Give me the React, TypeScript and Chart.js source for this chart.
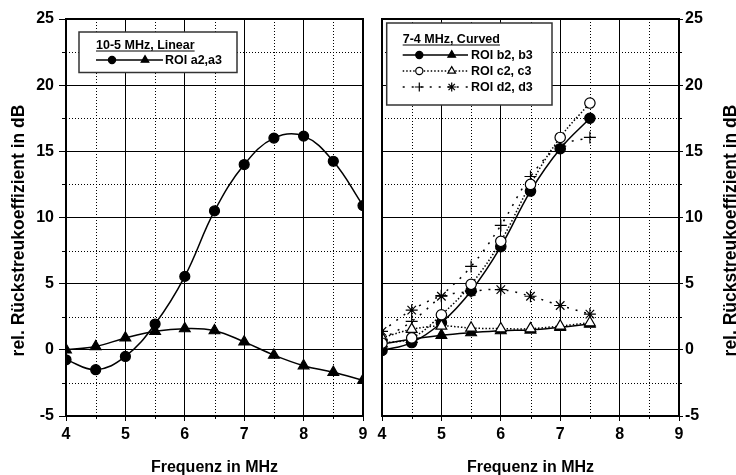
import React, { useEffect, useRef } from 'react';
import { Chart, registerables } from 'chart.js';

Chart.register(...registerables);

const FONT = "'Liberation Sans', Arial, Helvetica, sans-serif";
Chart.defaults.font.family = FONT;
Chart.defaults.color = '#000';

// ---------- data ----------
const freqLeft = [4, 4.5, 5, 5.5, 6, 6.5, 7, 7.5, 8, 8.5, 9];
const roiA2 = [-0.75, -1.5, -0.5, 1.95, 5.55, 10.5, 14.0, 16.0, 16.15, 14.25, 10.9];
const roiA3 = [0.0, 0.25, 0.9, 1.4, 1.6, 1.45, 0.6, -0.4, -1.2, -1.7, -2.3];

const freqRight = [4, 4.5, 5, 5.5, 6, 6.5, 7, 7.5];
const roiB2 = [-0.05, 0.55, 2.05, 4.45, 7.8, 12.0, 15.2, 17.5];
const roiB3 = [0.45, 0.8, 1.1, 1.3, 1.45, 1.5, 1.7, 1.95];
const roiC2 = [0.5, 0.9, 2.65, 4.95, 8.2, 12.5, 16.05, 18.65];
const roiC3 = [0.9, 1.55, 1.8, 1.65, 1.6, 1.6, 1.8, 2.05];
const roiD2 = [0.8, 2.15, 4.1, 6.3, 9.4, 13.1, 15.4, 16.05];
const roiD3 = [1.4, 3.0, 4.05, 4.4, 4.55, 4.05, 3.35, 2.7];

const xMin = 4, xMax = 9, xStep = 1;
const yMin = -5, yMax = 25, yStep = 5;
const xMinor = [4.5, 5.5, 6.5, 7.5, 8.5];
const yMinor = [-2.5, 2.5, 7.5, 12.5, 17.5, 22.5];

const yTitle = 'rel. Rückstreukoeffizient in dB';
const xTitle = 'Frequenz in MHz';
const legendLeftTitle = '10-5 MHz, Linear';
const legendLeftRows = ['ROI a2,a3'];
const legendRightTitle = '7-4 MHz, Curved';
const legendRightRows = ['ROI b2, b3', 'ROI c2, c3', 'ROI d2, d3'];

const pts = (xs: number[], ys: number[]) => xs.map((x, i) => ({ x, y: ys[i] }));

// ---------- drawing helpers ----------
function marker(ctx: CanvasRenderingContext2D, kind: string, x: number, y: number, r: number, filled: boolean) {
  ctx.save();
  ctx.setLineDash([]);
  ctx.lineWidth = 1.2;
  ctx.strokeStyle = '#000';
  ctx.fillStyle = filled ? '#000' : '#fff';
  ctx.beginPath();
  if (kind === 'circle') {
    ctx.arc(x, y, r, 0, Math.PI * 2);
    ctx.fill();
    ctx.stroke();
  } else if (kind === 'triangle') {
    let a = 0;
    for (let i = 0; i < 3; i++) {
      const px = x + Math.sin(a) * r, py = y - Math.cos(a) * r;
      if (i === 0) ctx.moveTo(px, py); else ctx.lineTo(px, py);
      a += (2 * Math.PI) / 3;
    }
    ctx.closePath();
    ctx.fill();
    ctx.stroke();
  } else if (kind === 'cross') {
    ctx.moveTo(x - r, y); ctx.lineTo(x + r, y);
    ctx.moveTo(x, y - r); ctx.lineTo(x, y + r);
    ctx.stroke();
  } else if (kind === 'star') {
    ctx.moveTo(x - r, y); ctx.lineTo(x + r, y);
    ctx.moveTo(x, y - r); ctx.lineTo(x, y + r);
    const d = r * Math.SQRT1_2;
    ctx.moveTo(x - d, y - d); ctx.lineTo(x + d, y + d);
    ctx.moveTo(x - d, y + d); ctx.lineTo(x + d, y - d);
    ctx.stroke();
  }
  ctx.restore();
}

type LegendRow = { text: string; dash: number[]; m1: string; f1: boolean; m2: string; f2: boolean };
type Cfg = {
  yTitleX: number;
  xTitleBaseline: number;
  legend: { box: [number, number, number, number]; x0: number; x1: number; cx1: number; cx2: number; textX: number; titleBase: number; rowsY: number[]; title: string; rows: LegendRow[] };
};

function makePlugin(cfg: Cfg) {
  return {
    id: 'frameDecor',
    beforeDatasetsDraw(chart: any) {
      const { ctx, chartArea: a, scales } = chart;
      const xs = scales.x, ys = scales.y;
      ctx.save();
      ctx.strokeStyle = '#000';
      ctx.lineWidth = 1;
      ctx.setLineDash([1, 2]);
      ctx.beginPath();
      for (const v of xMinor) {
        const px = Math.round(xs.getPixelForValue(v)) + 0.5;
        ctx.moveTo(px, a.top); ctx.lineTo(px, a.bottom);
      }
      for (const v of yMinor) {
        const py = Math.round(ys.getPixelForValue(v)) + 0.5;
        ctx.moveTo(a.left, py); ctx.lineTo(a.right, py);
      }
      ctx.stroke();
      ctx.setLineDash([]);
      // minor outward ticks
      ctx.beginPath();
      for (const v of xMinor) {
        const px = Math.round(xs.getPixelForValue(v)) + 0.5;
        ctx.moveTo(px, a.bottom); ctx.lineTo(px, a.bottom + 3);
      }
      for (const v of yMinor) {
        const py = Math.round(ys.getPixelForValue(v)) + 0.5;
        if (ys.position === 'right') { ctx.moveTo(a.right, py); ctx.lineTo(a.right + 3, py); }
        else { ctx.moveTo(a.left, py); ctx.lineTo(a.left - 4, py); }
      }
      ctx.stroke();
      ctx.restore();
    },
    afterDatasetsDraw(chart: any) {
      const { ctx, chartArea: a } = chart;
      ctx.save();
      ctx.strokeStyle = '#000';
      ctx.lineWidth = 2;
      ctx.setLineDash([]);
      ctx.strokeRect(a.left, a.top, a.right - a.left, a.bottom - a.top);
      ctx.restore();
    },
    afterDraw(chart: any) {
      const { ctx, chartArea: a } = chart;
      ctx.save();
      ctx.fillStyle = '#000';
      // y title
      ctx.font = `bold 17.5px ${FONT}`;
      ctx.textAlign = 'center';
      ctx.textBaseline = 'alphabetic';
      ctx.save();
      ctx.translate(cfg.yTitleX, 230.5);
      ctx.rotate(-Math.PI / 2);
      ctx.fillText(yTitle, 0, 0);
      ctx.restore();
      // x title
      ctx.font = `bold 16px ${FONT}`;
      ctx.fillText(xTitle, (a.left + a.right) / 2, cfg.xTitleBaseline);
      // legend
      const L = cfg.legend;
      const [bx0, by0, bx1, by1] = L.box;
      ctx.fillStyle = '#fff';
      ctx.fillRect(bx0, by0, bx1 - bx0, by1 - by0);
      ctx.strokeStyle = '#333';
      ctx.lineWidth = 1.5;
      ctx.strokeRect(bx0, by0, bx1 - bx0, by1 - by0);
      ctx.fillStyle = '#000';
      ctx.font = `bold 12.5px ${FONT}`;
      ctx.textAlign = 'left';
      ctx.textBaseline = 'alphabetic';
      ctx.fillText(L.title, L.x0, L.titleBase);
      const tw = ctx.measureText(L.title).width;
      ctx.strokeStyle = '#000';
      ctx.lineWidth = 1;
      ctx.beginPath();
      ctx.moveTo(L.x0, L.titleBase + 2.5);
      ctx.lineTo(L.x0 + tw, L.titleBase + 2.5);
      ctx.stroke();
      L.rows.forEach((row, i) => {
        const y = L.rowsY[i];
        ctx.save();
        ctx.lineWidth = 1.5;
        ctx.setLineDash(row.dash);
        ctx.beginPath();
        ctx.moveTo(L.x0, y);
        ctx.lineTo(L.x1, y);
        ctx.stroke();
        ctx.restore();
        marker(ctx, row.m1, L.cx1, y, row.m1 === 'circle' ? 3.6 : 4.5, row.f1);
        marker(ctx, row.m2, L.cx2, y, row.m2 === 'triangle' ? 4.4 : 4.5, row.f2);
        ctx.fillStyle = '#000';
        ctx.textBaseline = 'middle';
        ctx.fillText(row.text, L.textX, y + 0.5);
        ctx.textBaseline = 'alphabetic';
      });
      ctx.restore();
    },
  };
}

const tickFont = { size: 16, weight: 'bold' as const };

function baseScales(yPos: 'left' | 'right', yWidth: number) {
  return {
    x: {
      type: 'linear' as const,
      min: xMin,
      max: xMax,
      ticks: { stepSize: xStep, font: tickFont, color: '#000', padding: 4, maxRotation: 0, autoSkip: false },
      grid: { color: '#000', lineWidth: 1, tickLength: 5 },
      border: { display: false },
      afterFit: (s: any) => { s.height = 59; },
    },
    y: {
      type: 'linear' as const,
      position: yPos,
      min: yMin,
      max: yMax,
      ticks: { stepSize: yStep, font: tickFont, color: '#000', padding: yPos === 'left' ? 5 : 2, autoSkip: false },
      grid: { color: '#000', lineWidth: 1, tickLength: yPos === 'left' ? 7 : 4 },
      border: { display: false },
      afterFit: (s: any) => { s.width = yWidth; },
    },
  };
}

const lineBase = {
  borderColor: '#000',
  borderWidth: 1.5,
  pointBorderColor: '#000',
  pointBorderWidth: 1.2,
  tension: 0.4,
  fill: false,
};

export default function App() {
  const leftRef = useRef<HTMLCanvasElement>(null);
  const rightRef = useRef<HTMLCanvasElement>(null);

  useEffect(() => {
    const left = new Chart(leftRef.current!, {
      type: 'line',
      data: {
        datasets: [
          { ...lineBase, data: pts(freqLeft, roiA2), pointStyle: 'circle', pointRadius: 5, pointBackgroundColor: '#000' },
          { ...lineBase, data: pts(freqLeft, roiA3), pointStyle: 'triangle', pointRadius: 6.2, pointBackgroundColor: '#000' },
        ],
      },
      options: {
        responsive: false,
        animation: false,
        events: [],
        layout: { padding: { top: 19, right: 9, left: 0, bottom: 0 } },
        plugins: { legend: { display: false }, tooltip: { enabled: false } },
        scales: baseScales('left', 66) as any,
      },
      plugins: [
        makePlugin({
          yTitleX: 24,
          xTitleBaseline: 471.5,
          legend: {
            box: [79, 32, 237, 72.5],
            x0: 96, x1: 163, cx1: 112, cx2: 145, textX: 165,
            titleBase: 48.5,
            rowsY: [60],
            title: legendLeftTitle,
            rows: [{ text: legendLeftRows[0], dash: [], m1: 'circle', f1: true, m2: 'triangle', f2: true }],
          },
        }) as any,
      ],
    });

    const right = new Chart(rightRef.current!, {
      type: 'line',
      data: {
        datasets: [
          { ...lineBase, order: 3, data: pts(freqRight, roiB3), pointStyle: 'triangle', pointRadius: 6.2, pointBackgroundColor: '#000' },
          { ...lineBase, order: 2, data: pts(freqRight, roiB2), pointStyle: 'circle', pointRadius: 5.2, pointBackgroundColor: '#000' },
          { ...lineBase, order: 4, borderDash: [2, 7], data: pts(freqRight, roiD2), pointStyle: 'cross', pointRadius: 6, pointBackgroundColor: '#000' },
          { ...lineBase, order: 4, borderDash: [2, 7], data: pts(freqRight, roiD3), pointStyle: 'star', pointRadius: 6, pointBackgroundColor: '#000' },
          { ...lineBase, order: 1, borderDash: [1.5, 2], data: pts(freqRight, roiC3), pointStyle: 'triangle', pointRadius: 6.2, pointBackgroundColor: '#fff' },
          { ...lineBase, order: 0, borderDash: [1.5, 2], data: pts(freqRight, roiC2), pointStyle: 'circle', pointRadius: 5.2, pointBackgroundColor: '#fff' },
        ],
      },
      options: {
        responsive: false,
        animation: false,
        events: [],
        layout: { padding: { top: 19, right: 0, left: 12, bottom: 0 } },
        plugins: { legend: { display: false }, tooltip: { enabled: false } },
        scales: baseScales('right', 57) as any,
      },
      plugins: [
        makePlugin({
          yTitleX: 365.5,
          xTitleBaseline: 471.5,
          legend: {
            box: [16.7, 23, 182, 105],
            x0: 32.7, x1: 98, cx1: 49.3, cx2: 81.7, textX: 101,
            titleBase: 42.5,
            rowsY: [55, 71, 87],
            title: legendRightTitle,
            rows: [
              { text: legendRightRows[0], dash: [], m1: 'circle', f1: true, m2: 'triangle', f2: true },
              { text: legendRightRows[1], dash: [1.5, 2], m1: 'circle', f1: false, m2: 'triangle', f2: false },
              { text: legendRightRows[2], dash: [2, 7], m1: 'cross', f1: true, m2: 'star', f2: true },
            ],
          },
        }) as any,
      ],
    });

    return () => {
      left.destroy();
      right.destroy();
    };
  }, []);

  return (
    <div style={{ position: 'absolute', left: 0, top: 0, width: 736, height: 475, background: '#fff', overflow: 'hidden' }}>
      <canvas ref={leftRef} width={372} height={475} style={{ position: 'absolute', left: 0, top: 0, width: 372, height: 475 }} />
      <canvas ref={rightRef} width={366} height={475} style={{ position: 'absolute', left: 370, top: 0, width: 366, height: 475 }} />
    </div>
  );
}
